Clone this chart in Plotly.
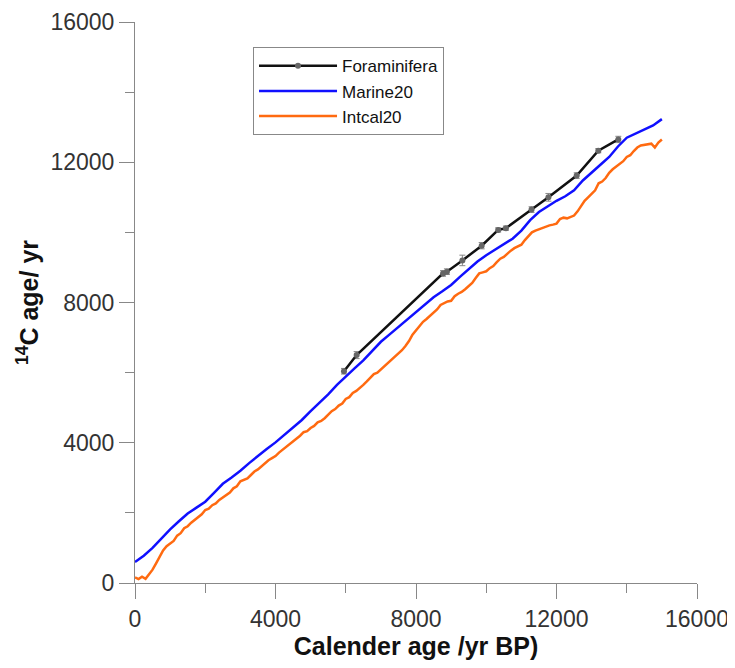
import plotly.graph_objects as go

# Foraminifera data (calendar age, 14C age, 1-sigma error)
foram_cal = [5950, 6310, 8770, 8880, 9320, 9870, 10340, 10560, 11290, 11770, 12575, 13190, 13760]
foram_c14 = [6040, 6500, 8830, 8880, 9200, 9620, 10070, 10120, 10650, 11000, 11620, 12330, 12650]
foram_err = [80, 100, 80, 80, 150, 90, 60, 60, 80, 110, 80, 60, 90]

# Marine20 curve
marine_cal = [0, 250, 500, 750, 1000, 1250, 1500, 1750, 2000, 2250, 2500, 2750, 3000, 3250,
              3500, 3750, 4000, 4250, 4500, 4750, 5000, 5250, 5500, 5750, 6000, 6250, 6500,
              6750, 7000, 7250, 7500, 7750, 8000, 8250, 8500, 8750, 9000, 9250, 9500, 9750,
              10000, 10250, 10500, 10750, 11000, 11250, 11500, 11750, 12000, 12250, 12500,
              12750, 13000, 13250, 13500, 13750, 14000, 14250, 14500, 14750, 15000]
marine_c14 = [600, 780, 1000, 1280, 1530, 1760, 1980, 2150, 2320, 2570, 2830, 3010, 3200, 3420,
              3630, 3820, 4010, 4230, 4440, 4650, 4900, 5130, 5380, 5650, 5900, 6120, 6350,
              6630, 6880, 7090, 7300, 7510, 7720, 7950, 8150, 8320, 8500, 8730, 8950, 9170,
              9350, 9500, 9650, 9820, 10050, 10350, 10580, 10750, 10900, 11030, 11200,
              11480, 11720, 11930, 12150, 12450, 12700, 12820, 12930, 13050, 13230]

# IntCal20 curve
intcal_cal = [0, 100, 200, 300, 400, 500, 600, 700, 800, 900, 1000, 1100, 1200, 1300, 1400,
              1500, 1600, 1700, 1800, 1900, 2000, 2100, 2200, 2300, 2400, 2500, 2600, 2700,
              2800, 2900, 3000, 3100, 3200, 3300, 3400, 3500, 3600, 3700, 3800, 3900, 4000,
              4100, 4200, 4300, 4400, 4500, 4600, 4700, 4800, 4900, 5000, 5100, 5200, 5300,
              5400, 5500, 5600, 5700, 5800, 5900, 6000, 6100, 6200, 6300, 6400, 6500, 6600,
              6700, 6800, 6900, 7000, 7100, 7200, 7300, 7400, 7500, 7600, 7700, 7800, 7900,
              8000, 8100, 8200, 8300, 8400, 8500, 8600, 8700, 8800, 8900, 9000, 9100, 9200,
              9300, 9400, 9500, 9600, 9700, 9800, 9900, 10000, 10100, 10200, 10300, 10400,
              10500, 10600, 10700, 10800, 10900, 11000, 11100, 11200, 11300, 11400, 11500,
              11600, 11700, 11800, 11900, 12000, 12100, 12200, 12300, 12400, 12500, 12600,
              12700, 12800, 12900, 13000, 13100, 13200, 13300, 13400, 13500, 13600, 13700,
              13800, 13900, 14000, 14100, 14200, 14300, 14400, 14500, 14600, 14700, 14800,
              14900, 15000]
intcal_c14 = [160, 110, 180, 120, 250, 380, 560, 760, 930, 1050, 1120, 1200, 1350, 1420, 1560,
              1620, 1720, 1800, 1900, 1960, 2080, 2120, 2220, 2270, 2370, 2440, 2500, 2580,
              2700, 2760, 2900, 2930, 2980, 3080, 3180, 3240, 3330, 3420, 3500, 3560, 3620,
              3720, 3800, 3880, 3960, 4030, 4120, 4200, 4300, 4330, 4420, 4480, 4580, 4620,
              4700, 4810, 4900, 4960, 5060, 5120, 5250, 5300, 5420, 5480, 5580, 5650, 5750,
              5860, 5960, 6000, 6090, 6180, 6270, 6360, 6450, 6540, 6640, 6760, 6900, 7080,
              7200, 7320, 7450, 7530, 7620, 7700, 7800, 7930, 7980, 8030, 8050, 8180, 8250,
              8300, 8380, 8460, 8560, 8700, 8830, 8860, 8890, 8980, 9040, 9150, 9250,
              9300, 9400, 9480, 9550, 9600, 9650, 9780, 9900, 10000, 10050, 10090,
              10120, 10170, 10200, 10220, 10250, 10380, 10420, 10400, 10430, 10480, 10600,
              10750, 10900, 11000, 11100, 11200, 11400, 11450, 11550, 11700, 11800, 11870,
              11950, 12030, 12150, 12200, 12320, 12420, 12480, 12500, 12500, 12530, 12420,
              12560, 12650]

tick_vals = [0, 4000, 8000, 12000, 16000]
tick_text = ["0", "4000", "8000", "12000", "16000"]
minor_vals = [2000, 6000, 10000, 14000]

FONT = "Arial, 'Liberation Sans', sans-serif"

fig = go.Figure()
fig.add_trace(go.Scatter(
    x=foram_cal, y=foram_c14, name="Foraminifera", mode="lines+markers",
    line=dict(color="#111111", width=2.5),
    marker=dict(color="#666666", size=6),
    error_y=dict(type="data", array=foram_err, color="#888888", thickness=1, width=3),
))
fig.add_trace(go.Scatter(
    x=marine_cal, y=marine_c14, name="Marine20", mode="lines",
    line=dict(color="#1010ff", width=2.5),
))
fig.add_trace(go.Scatter(
    x=intcal_cal, y=intcal_c14, name="Intcal20", mode="lines",
    line=dict(color="#ff6a10", width=2.5),
))

axis_common = dict(
    range=[0, 16000], tickmode="array", tickvals=tick_vals, ticktext=tick_text,
    showgrid=False, zeroline=False, showline=True, linecolor="#888888", linewidth=1,
    ticks="outside", ticklen=15, tickcolor="#888888", tickwidth=1,
    tickfont=dict(family=FONT, size=23, color="#333333"),
    minor=dict(tickmode="array", tickvals=minor_vals, ticks="outside",
               ticklen=9, tickcolor="#888888", tickwidth=1),
    automargin=False,
    ticklabeloverflow="allow",
)

# page body has an 8px default margin, so figure is 727x660 with shifted margins
fig.update_layout(
    width=727, height=660,
    margin=dict(l=127, r=38, t=14, b=85),
    plot_bgcolor="white", paper_bgcolor="white",
    font=dict(family=FONT, color="#111111"),
    xaxis=dict(**axis_common,
               title=dict(text="<b>Calender age /yr BP)</b>", font=dict(size=25, color="#111111"), standoff=4)),
    yaxis=dict(**axis_common,
               title=dict(text="<b><sup>14</sup>C age/ yr</b>", font=dict(size=25, color="#111111"), standoff=4)),
    legend=dict(x=0.21, y=0.955, xanchor="left", yanchor="top",
                bordercolor="#888888", borderwidth=1, bgcolor="white",
                font=dict(family=FONT, size=17, color="#111111"),
                itemwidth=78, tracegroupgap=0),
    showlegend=True,
)

fig.write_html("out.html")
